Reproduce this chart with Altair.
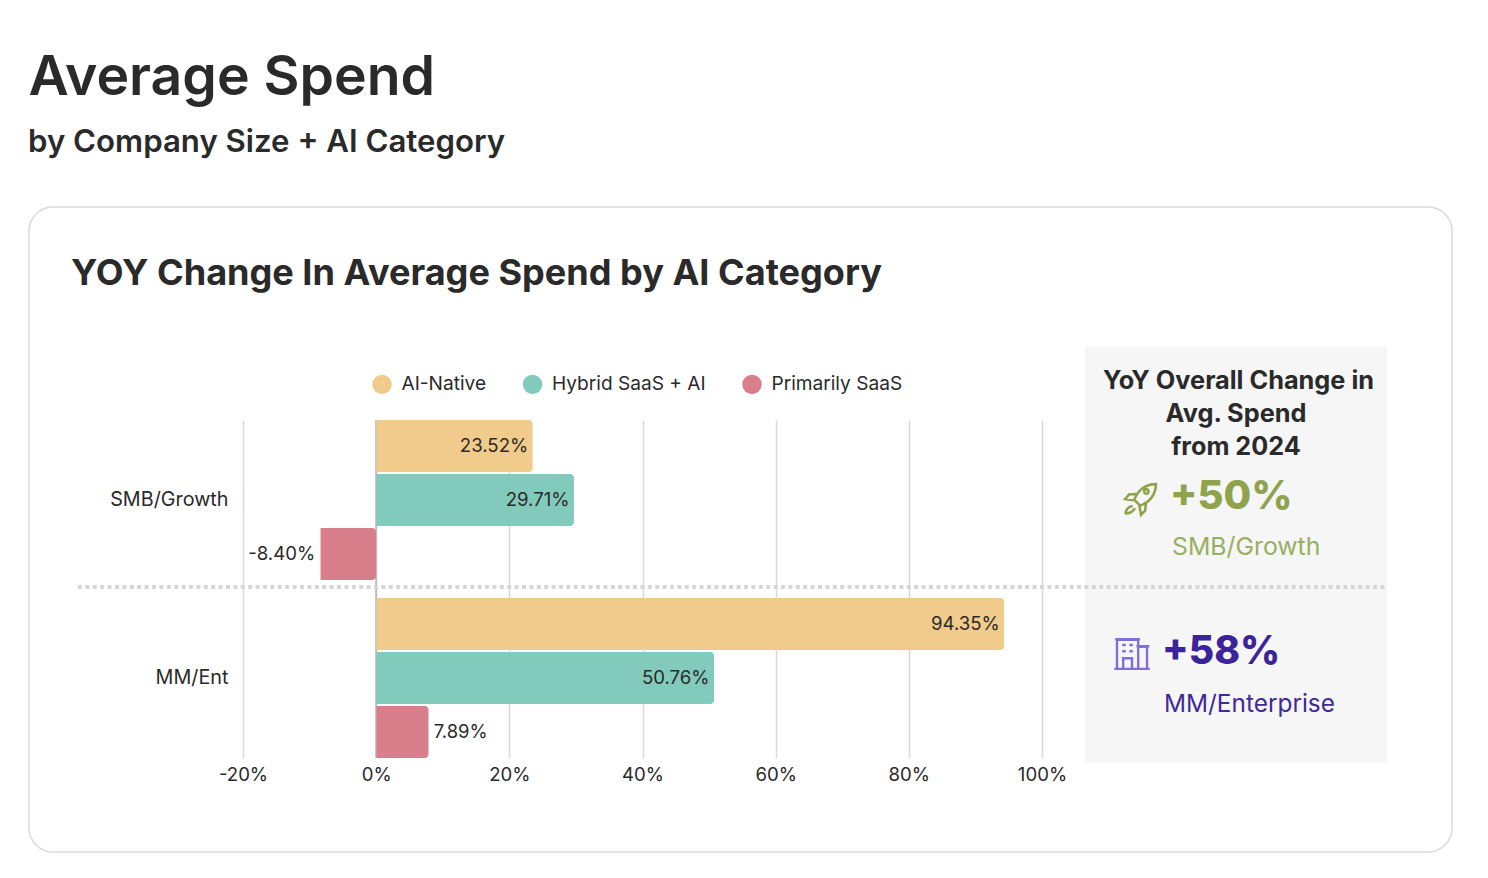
import altair as alt
import pandas as pd

# values
companies = ["SMB/Growth", "SMB/Growth", "SMB/Growth", "MM/Ent", "MM/Ent", "MM/Ent"]
categories = ["AI-Native", "Hybrid SaaS + AI", "Primarily SaaS"] * 2
values = [23.52, 29.71, -8.40, 94.35, 50.76, 7.89]
value_labels = ["23.52%", "29.71%", "-8.40%", "94.35%", "50.76%", "7.89%"]
company_order = ["SMB/Growth", "MM/Ent"]
category_order = ["AI-Native", "Hybrid SaaS + AI", "Primarily SaaS"]
category_colors = ["#F1CB8B", "#82CBBC", "#D97F8C"]
x_ticks = [-20, 0, 20, 40, 60, 80, 100]

df = pd.DataFrame({"company": companies, "category": categories, "value": values, "label": value_labels})

W, H = 799, 338
OX, OY = 243, 420  # page position of the plot area's top-left corner
px = lambda v: v - OX
py = lambda v: v - OY

DARK = "#2A2A2A"
FONT = "Inter"
ROCKET = ("M0.9 -0.9C0.3 -0.9 -0.2 -0.55 -0.4 0.05L-0.05 0.4C0.55 0.2 0.9 -0.3 0.9 -0.9Z"
          "M-0.3 -0.3L-0.72 -0.27L-0.95 0L-0.45 0.08"
          "M0.3 0.25L0.25 0.7L0 0.95L-0.1 0.4"
          "M-0.5 0.42C-0.8 0.45 -0.92 0.7 -0.92 0.86C-0.7 0.9 -0.45 0.75 -0.37 0.55"
          "M0.45 -0.45A0.13 0.13 0 1 0 0.19 -0.45A0.13 0.13 0 1 0 0.45 -0.45Z")
BUILDING = ("M-1 0.9L1 0.9M-0.85 0.9L-0.85 -0.75L0.35 -0.75L0.35 0.9M-0.95 -0.78L0.45 -0.78"
            "M0.35 -0.35L0.85 -0.35L0.85 0.9M0.25 -0.38L0.98 -0.38"
            "M-0.55 -0.45L-0.35 -0.45M-0.15 -0.45L0.05 -0.45M-0.55 -0.1L-0.35 -0.1M-0.15 -0.1L0.05 -0.1"
            "M-0.5 0.9L-0.5 0.3L0 0.3L0 0.9")

x_enc = alt.X("value:Q",
              scale=alt.Scale(domain=[-20, 100], nice=False, zero=False),
              axis=alt.Axis(values=x_ticks, title=None, labelExpr="datum.value + '%'",
                            grid=True, gridColor="#D9D9D9", gridWidth=1.5, ticks=False, domain=False,
                            labelFlush=False, labelOverlap=False,
                            labelFont=FONT, labelFontSize=18.6, labelColor=DARK, labelPadding=7))
y_enc = alt.Y("company:N",
              scale=alt.Scale(domain=company_order, paddingInner=18 / 178, paddingOuter=0),
              axis=alt.Axis(title=None, ticks=False, domain=False, grid=False,
                            labelFont=FONT, labelFontSize=19.8, labelColor=DARK, labelPadding=15))
yo_enc = alt.YOffset("category:N", scale=alt.Scale(domain=category_order, paddingInner=0.037, paddingOuter=0))

def text(label, x, y, size, weight=400, color=DARK, align="left", font=FONT):
    return alt.Chart().mark_text(text=label, font=font, fontSize=size, fontWeight=weight, color=color,
                                 align=align, baseline="middle").encode(
        x=alt.value(px(x)), y=alt.value(py(y)))

card = alt.Chart().mark_rect(fillOpacity=0, stroke="#DADADA", strokeWidth=1.5, cornerRadius=24).encode(
    x=alt.value(px(29)), x2=alt.value(px(1452)), y=alt.value(py(207)), y2=alt.value(py(852)))
panel = alt.Chart().mark_rect(fill="#F6F6F6").encode(
    x=alt.value(px(1085)), x2=alt.value(px(1387)), y=alt.value(py(347)), y2=alt.value(py(762)))
zero = alt.Chart().mark_rule(color="#A8A8A8", strokeWidth=1.2).encode(
    x=alt.value(px(376)), y=alt.value(0), y2=alt.value(H))
dotted = alt.Chart().mark_rule(color="#D6D6D6", strokeWidth=4, strokeDash=[4, 3.4]).encode(
    x=alt.value(px(78)), x2=alt.value(px(1387)), y=alt.value(py(587)))

bars = alt.Chart(df).mark_bar(cornerRadiusEnd=4).encode(
    x=x_enc, y=y_enc, yOffset=yo_enc,
    color=alt.Color("category:N",
                    scale=alt.Scale(domain=category_order, range=category_colors),
                    legend=alt.Legend(title=None, orient="none", direction="horizontal", columns=3,
                                      legendX=px(372), legendY=py(374), symbolType="circle", symbolSize=380,
                                      symbolStrokeWidth=0, labelFont=FONT, labelFontSize=19.1,
                                      labelColor=DARK, columnPadding=35.5, labelOffset=9.5)))

base_labels = alt.Chart(df)
lab_enc = dict(x=alt.X("value:Q"), y=alt.Y("company:N"), yOffset=alt.YOffset("category:N"), text="label:N")
inside = base_labels.transform_filter("datum.value >= 20").mark_text(
    align="right", dx=-4.5, font=FONT, fontSize=18.6, color=DARK).encode(**lab_enc)
outpos = base_labels.transform_filter("datum.value >= 0 && datum.value < 20").mark_text(
    align="left", dx=5, font=FONT, fontSize=18.4, color=DARK).encode(**lab_enc)
outneg = base_labels.transform_filter("datum.value < 0").mark_text(
    align="right", dx=-5, font=FONT, fontSize=18.6, color=DARK).encode(**lab_enc)

rocket = alt.Chart().mark_point(shape=ROCKET, size=1100, stroke="#8EA34B", strokeWidth=2.6, fillOpacity=0, opacity=1).encode(
    x=alt.value(px(1141)), y=alt.value(py(499)))
building = alt.Chart().mark_point(shape=BUILDING, size=1250, stroke="#7F70DB", strokeWidth=2.4, fillOpacity=0, opacity=1).encode(
    x=alt.value(px(1132)), y=alt.value(py(653)))

chart = alt.layer(
    card, panel, zero, bars, inside, outpos, outneg, dotted,
    text("Average Spend", 28.5, 78, 55.3, 600),
    text("by Company Size + AI Category", 28, 143, 31.2, 600),
    text("YOY Change In Average Spend by AI Category", 71, 274, 36.1, 700),
    text("YoY Overall Change in", 1238.5, 381, 25.3, 700, align="center"),
    text("Avg. Spend", 1236, 414, 25.3, 700, align="center"),
    text("from 2024", 1236, 447, 25.2, 700, align="center"),
    rocket,
    text("+50%", 1170, 497, 40, 800, "#8EA34B"),
    text("SMB/Growth", 1172, 548, 24.8, 400, "#9AAE62"),
    building,
    text("+58%", 1162, 652, 39, 800, "#3B239B"),
    text("MM/Enterprise", 1164, 705, 24.4, 400, "#3F2A9A"),
).resolve_scale(x="shared", y="shared").properties(
    width=W, height=H,
    padding={"left": 235, "top": 412, "right": 430, "bottom": 100},
    autosize=alt.AutoSizeParams(type="none"),
    background="white",
).configure_view(stroke=None)

chart.save("out.html", embed_options={"renderer": "svg", "actions": False})
